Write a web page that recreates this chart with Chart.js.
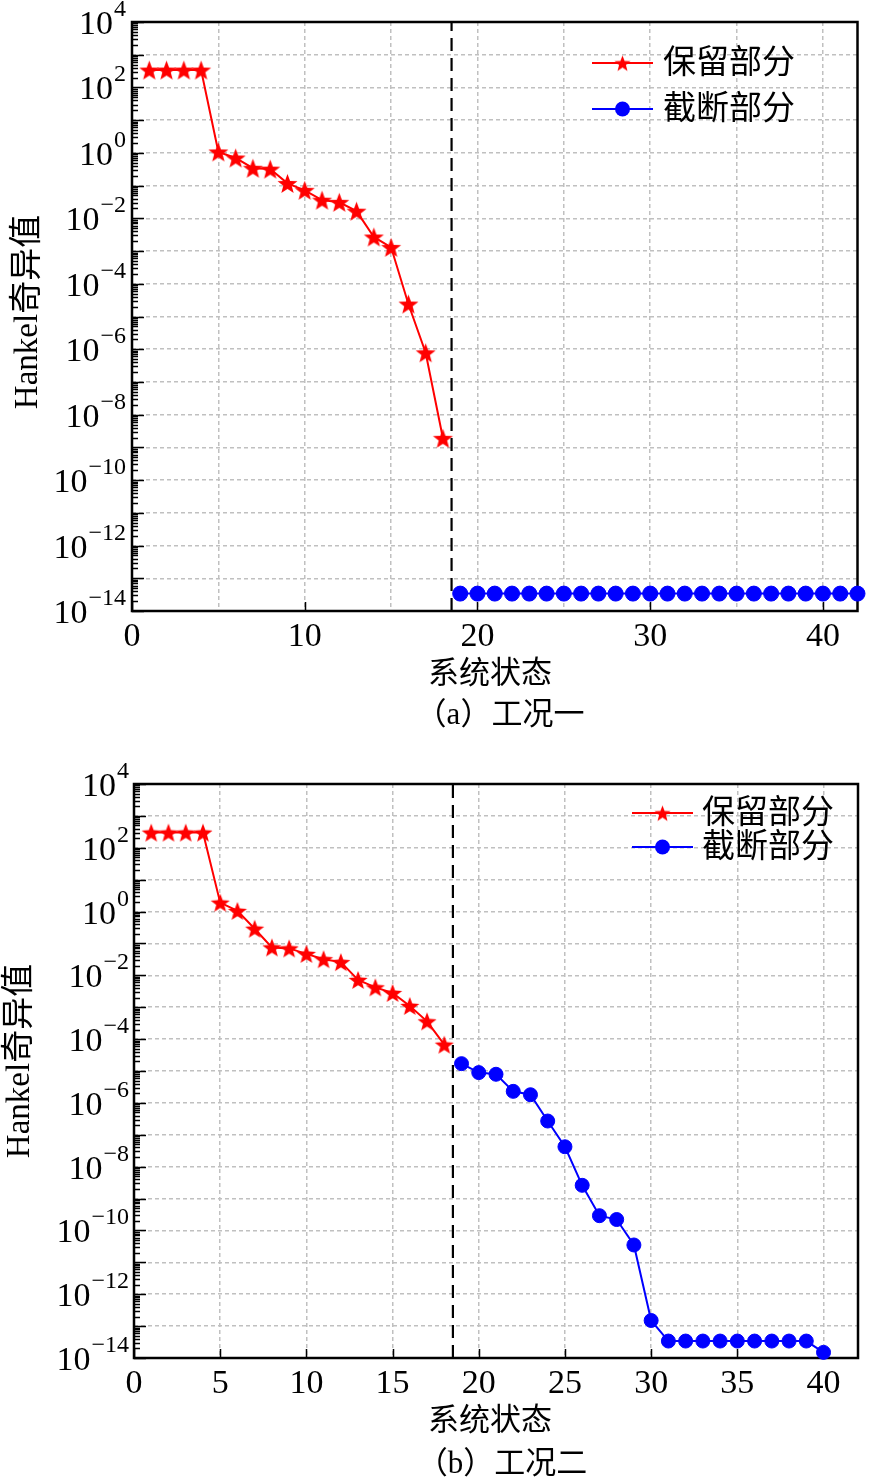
<!DOCTYPE html>
<html>
<head>
<meta charset="utf-8">
<script src="https://cdn.jsdelivr.net/npm/chart.js@4.4.1/dist/chart.umd.min.js"></script>
<style>
  body { margin: 0; background: #fff; }
  canvas { display: block; }
</style>
</head>
<body>
<canvas id="chartA" width="870" height="740"></canvas>
<canvas id="chartB" width="870" height="742"></canvas>
<script>
// estados del sistema (eje x)
var stateKeep = [1, 2, 3, 4, 5, 6, 7, 8, 9, 10, 11, 12, 13, 14, 15, 16, 17, 18];
var stateCutA = [19, 20, 21, 22, 23, 24, 25, 26, 27, 28, 29, 30, 31, 32, 33, 34, 35, 36, 37, 38, 39, 40, 41, 42];
var stateCutB = [19, 20, 21, 22, 23, 24, 25, 26, 27, 28, 29, 30, 31, 32, 33, 34, 35, 36, 37, 38, 39, 40];

// (a) 工况一
var keepA = [340, 340, 340, 340, 1.07, 0.7, 0.34, 0.32, 0.117, 0.072, 0.036, 0.031, 0.0166, 0.0027, 0.0013, 2.4e-5, 7.8e-7, 1.9e-9];
var cutA = [3.4e-14, 3.4e-14, 3.4e-14, 3.4e-14, 3.4e-14, 3.4e-14, 3.4e-14, 3.4e-14, 3.4e-14, 3.4e-14, 3.4e-14, 3.4e-14,
            3.4e-14, 3.4e-14, 3.4e-14, 3.4e-14, 3.4e-14, 3.4e-14, 3.4e-14, 3.4e-14, 3.4e-14, 3.4e-14, 3.4e-14, 3.4e-14];

// (b) 工况二
var keepB = [300, 300, 300, 300, 1.9, 1.05, 0.29, 0.075, 0.07, 0.047, 0.032, 0.026, 0.0072, 0.0042, 0.0028, 0.0011, 3.6e-4, 6.7e-5];
var cutB = [1.7e-5, 8.9e-6, 7.9e-6, 2.3e-6, 1.8e-6, 2.7e-7, 4.2e-8, 2.6e-9, 2.9e-10, 2.2e-10, 3.5e-11, 1.5e-13,
            3.4e-14, 3.4e-14, 3.4e-14, 3.4e-14, 3.4e-14, 3.4e-14, 3.4e-14, 3.4e-14, 3.4e-14, 1.5e-14];

// linea de corte
var cutLineX = [18.5, 18.5];
var cutLineY = [1e-14, 1e4];

// ticks
var xGrid = [0, 5, 10, 15, 20, 25, 30, 35, 40];
var xTicksA = [0, 10, 20, 30, 40];
var xTicksB = [0, 5, 10, 15, 20, 25, 30, 35, 40];
var yGridExp = [4, 3, 2, 1, 0, -1, -2, -3, -4, -5, -6, -7, -8, -9, -10, -11, -12, -13, -14];
var yTickExp = [4, 2, 0, -2, -4, -6, -8, -10, -12, -14];

var legendNames = ['保留部分', '截断部分'];

var NUM_FONT = "'Liberation Serif', 'Times New Roman', serif";
var CJK_FONT = "'Liberation Serif', 'Noto Sans CJK SC', sans-serif";

function makeStar(r, color) {
    var c = document.createElement('canvas');
    var s = Math.ceil(r * 2) + 2;
    c.width = s; c.height = s;
    var g = c.getContext('2d');
    g.fillStyle = color;
    g.beginPath();
    for (var i = 0; i < 10; i++) {
        var rad = i % 2 === 0 ? r : r * 0.42;
        var a = -Math.PI / 2 + i * Math.PI / 5;
        var px = s / 2 + rad * Math.cos(a), py = s / 2 + 1 + rad * Math.sin(a);
        if (i) g.lineTo(px, py); else g.moveTo(px, py);
    }
    g.closePath();
    g.fill();
    return c;
}

function toPoints(xs, ys) {
    return xs.map(function (x, i) { return {x: x, y: ys[i]}; });
}

function supText(e) {
    return (e < 0 ? '\u2212' : '') + Math.abs(e);
}

// marcos, ticks y textos
var decoPlugin = {
    id: 'deco',
    beforeDatasetsDraw: function (chart, args, o) {
        var ctx = chart.ctx, a = chart.chartArea, x = chart.scales.x, y = chart.scales.y;
        ctx.save();
        ctx.strokeStyle = '#000';
        ctx.lineWidth = 1.5;
        ctx.beginPath();
        for (var e = -14; e < 4; e++) {
            for (var m = 2; m < 10; m++) {
                var py = Math.round(y.getPixelForValue(m * Math.pow(10, e))) + 0.5;
                ctx.moveTo(a.left, py); ctx.lineTo(a.left + 6, py);
            }
        }
        yGridExp.forEach(function (e) {
            var py = Math.round(y.getPixelForValue(Math.pow(10, e))) + 0.5;
            ctx.moveTo(a.left, py); ctx.lineTo(a.left + 12, py);
        });
        o.xTicks.forEach(function (v) {
            var px = Math.round(x.getPixelForValue(v)) + 0.5;
            ctx.moveTo(px, a.bottom); ctx.lineTo(px, a.bottom - 9);
        });
        ctx.stroke();
        ctx.lineWidth = 2.5;
        ctx.strokeRect(a.left, a.top, a.right - a.left, a.bottom - a.top);
        ctx.restore();
    },
    afterDraw: function (chart, args, o) {
        var ctx = chart.ctx, a = chart.chartArea, x = chart.scales.x, y = chart.scales.y;
        ctx.save();
        ctx.fillStyle = '#000';
        // y labels 10^n
        yTickExp.forEach(function (e) {
            var py = y.getPixelForValue(Math.pow(10, e));
            ctx.font = '34px ' + NUM_FONT;
            var w1 = ctx.measureText('10').width;
            ctx.font = '24px ' + NUM_FONT;
            var s = supText(e);
            var w2 = ctx.measureText(s).width;
            var x0 = o.yLabelRight - w1 - w2;
            ctx.textAlign = 'left';
            ctx.textBaseline = 'alphabetic';
            ctx.font = '34px ' + NUM_FONT;
            ctx.fillText('10', x0, py + 12);
            ctx.font = '24px ' + NUM_FONT;
            ctx.fillText(s, x0 + w1 + 1, py - 6);
        });
        // x labels
        ctx.font = '34px ' + NUM_FONT;
        ctx.textAlign = 'center';
        ctx.textBaseline = 'middle';
        o.xTicks.forEach(function (v) {
            ctx.fillText(String(v), x.getPixelForValue(v), a.bottom + o.xLabelGap);
        });
        // titles
        ctx.font = '31px ' + CJK_FONT;
        ctx.fillText('系统状态', o.xTitlePos[0], o.xTitlePos[1]);
        ctx.fillText(o.caption, o.captionPos[0], o.captionPos[1]);
        ctx.save();
        ctx.translate(o.yTitlePos[0], o.yTitlePos[1]);
        ctx.rotate(-Math.PI / 2);
        ctx.font = '33px ' + CJK_FONT;
        ctx.fillText('Hankel奇异值', 0, 0);
        ctx.restore();
        // legend
        var ds = chart.data.datasets;
        o.legendRows.forEach(function (ry, i) {
            ctx.strokeStyle = ds[i].borderColor;
            ctx.lineWidth = 2;
            ctx.beginPath();
            ctx.moveTo(o.legendLine[0], ry); ctx.lineTo(o.legendLine[1], ry);
            ctx.stroke();
            var mx = (o.legendLine[0] + o.legendLine[1]) / 2;
            if (i === 0) {
                var st = makeStar(8.5, ds[i].borderColor);
                ctx.drawImage(st, mx - st.width / 2, ry - st.height / 2);
            } else {
                ctx.fillStyle = ds[i].borderColor;
                ctx.beginPath();
                ctx.arc(mx, ry, 7.5, 0, Math.PI * 2);
                ctx.fill();
            }
            ctx.fillStyle = '#000';
            ctx.textAlign = 'left';
            ctx.textBaseline = 'middle';
            ctx.font = '33px ' + CJK_FONT;
            ctx.fillText(legendNames[i], o.legendText, ry + 1);
        });
        ctx.restore();
    }
};

function buildChart(id, cfg) {
    var gridOpts = {color: '#c0c0c0', lineWidth: 1.5, drawTicks: false};
    return new Chart(document.getElementById(id), {
        type: 'line',
        data: {
            datasets: [
                {
                    label: legendNames[0],
                    data: toPoints(stateKeep, cfg.keep),
                    borderColor: '#ff0000',
                    backgroundColor: '#ff0000',
                    borderWidth: 2,
                    pointStyle: makeStar(cfg.starR, '#ff0000'),
                    pointRadius: cfg.starR,
                    clip: false
                },
                {
                    label: legendNames[1],
                    data: toPoints(cfg.cutX, cfg.cut),
                    borderColor: '#0000ff',
                    backgroundColor: '#0000ff',
                    borderWidth: 2,
                    pointStyle: 'circle',
                    pointRadius: cfg.dotR,
                    pointBorderWidth: 1,
                    clip: false
                },
                {
                    label: 'cut',
                    data: toPoints(cutLineX, cutLineY),
                    borderColor: '#000',
                    borderWidth: 2.2,
                    borderDash: [13, 7],
                    pointRadius: 0
                }
            ]
        },
        options: {
            responsive: false,
            animation: false,
            layout: {padding: cfg.padding},
            plugins: {
                legend: {display: false},
                tooltip: {enabled: false},
                deco: cfg.deco
            },
            scales: {
                x: {
                    type: 'linear',
                    min: 0,
                    max: 42,
                    afterBuildTicks: function (s) { s.ticks = xGrid.map(function (v) { return {value: v}; }); },
                    afterFit: function (s) { s.height = 0; },
                    ticks: {display: false},
                    grid: gridOpts,
                    border: {display: false, dash: [4, 3]}
                },
                y: {
                    type: 'logarithmic',
                    min: 1e-14,
                    max: 1e4,
                    afterBuildTicks: function (s) { s.ticks = yGridExp.map(function (e) { return {value: Math.pow(10, e)}; }); },
                    afterFit: function (s) { s.width = 0; },
                    ticks: {display: false},
                    grid: gridOpts,
                    border: {display: false, dash: [4, 3]}
                }
            }
        },
        plugins: [decoPlugin]
    });
}

buildChart('chartA', {
    keep: keepA, cutX: stateCutA, cut: cutA, starR: 10.5, dotR: 7.5,
    padding: {left: 132, top: 22, right: 10, bottom: 129},
    deco: {
        xTicks: xTicksA, yLabelRight: 125, xLabelGap: 26,
        xTitlePos: [490, 675], caption: '（a）工况一', captionPos: [500, 716], yTitlePos: [28, 312],
        legendRows: [63, 109], legendLine: [592, 653], legendText: 663
    }
});

buildChart('chartB', {
    keep: keepB, cutX: stateCutB, cut: cutB, starR: 10, dotR: 7,
    padding: {left: 134, top: 44, right: 10, bottom: 124},
    deco: {
        xTicks: xTicksB, yLabelRight: 128, xLabelGap: 26,
        xTitlePos: [490, 682], caption: '（b）工况二', captionPos: [502, 725], yTitlePos: [20, 321],
        legendRows: [73, 107], legendLine: [632, 693], legendText: 702
    }
});
</script>
</body>
</html>
